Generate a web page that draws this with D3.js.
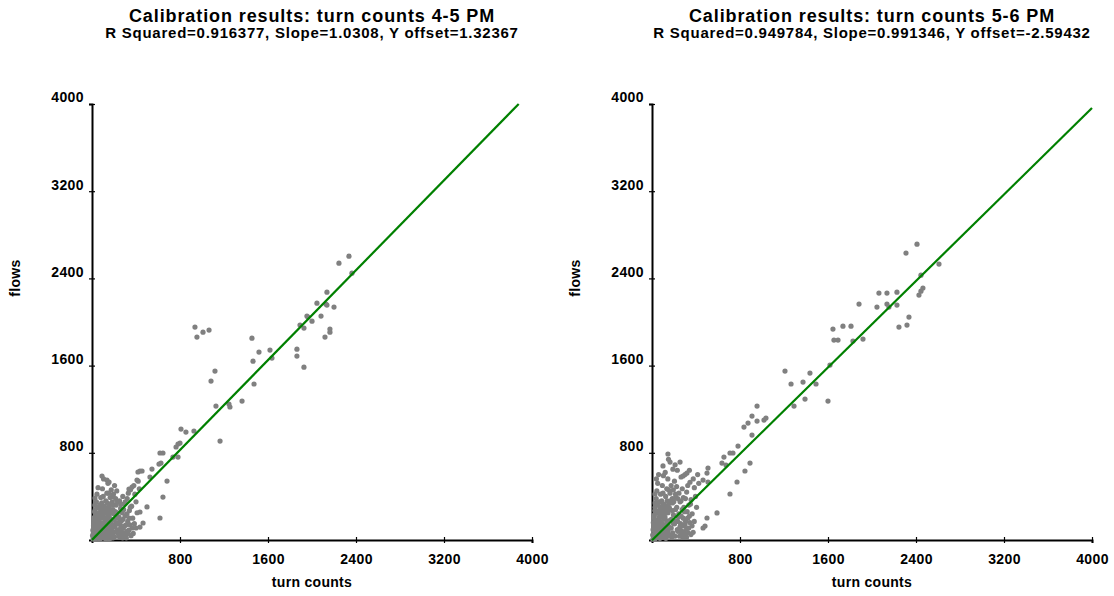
<!DOCTYPE html>
<html>
<head>
<meta charset="utf-8">
<script src="https://cdn.jsdelivr.net/npm/d3@7"></script>
<style>
  body { margin: 0; background: #fff; }
  text { font-family: "Liberation Sans", Arial, sans-serif; font-weight: bold; fill: #000; }
</style>
</head>
<body>
<div id="chart"></div>
<script>
var width = 1114;
var height = 596;

var tickValues = [800, 1600, 2400, 3200, 4000];

var titles = ["Calibration results: turn counts 4-5 PM", "Calibration results: turn counts 5-6 PM"];
var subtitles = ["R Squared=0.916377, Slope=1.0308, Y offset=1.32367",
                 "R Squared=0.949784, Slope=0.991346, Y offset=-2.59432"];
var slopes = [1.0308, 0.991346];
var offsets = [1.32367, -2.59432];

// 4-5 PM: [turn counts, flows]
var points45 = [
  [2245,2540],[2336,2604],[2363,2448],[2136,2274],[2045,2173],[2127,2164],[2200,2137],[2082,2054],
  [1963,2045],[2000,2008],[1891,1972],[1927,1944],[2163,1935],[2136,2155],[2118,1862],[2163,1907],
  [1863,1751],[1863,1687],[1927,1586],[1954,2054],
  [936,1953],[954,1862],[1009,1907],[1064,1926],[1454,1852],[1518,1724],[1618,1742],[1636,1669],
  [1464,1641],[1118,1550],[1082,1458],[1473,1431],[1364,1275],[1127,1229],[1245,1247],[1254,1220],
  [809,1018],[854,990],[927,1000],[800,889],[1164,908],[782,880],[764,853],[618,798],[645,798],
  [736,761],[782,761],[609,697],[627,706],[436,633],[418,624],[455,633],[545,651],[527,578],
  [409,550],[682,541],[645,394],[618,202],[91,587],[136,550],[155,532],[27,385],[364,486],[336,468],
  [500,303],[436,257],[464,156],[436,119],[400,110],[318,64],[255,183],
  [20,30],[35,60],[50,20],[60,90],[75,45],[90,130],[100,70],[110,160],[120,30],[130,110],
  [140,200],[150,60],[160,240],[170,150],[180,90],[190,280],[200,190],[210,120],[220,320],[230,250],
  [240,60],[250,360],[260,290],[270,180],[280,400],[290,330],[300,220],[310,140],[320,380],[330,430],
  [340,270],[350,460],[360,310],[370,200],[380,500],[390,420],[400,350],[410,250],[420,540],[430,470],
  [15,150],[25,210],[30,280],[40,350],[45,420],[55,480],[65,250],[70,320],[80,390],[85,200],
  [95,470],[105,560],[115,270],[125,360],[135,430],[145,520],[155,310],[165,390],[175,460],[185,350],
  [195,420],[205,500],[215,380],[225,450],[235,150],[245,210],[255,100],[265,40],[275,250],[285,110],
  [295,60],[305,30],[315,80],[325,170],[335,90],[345,140],[355,40],[365,110],[375,60],[385,150],
  [10,10],[12,60],[18,100],[22,180],[28,5],[32,120],[38,240],[42,15],[48,170],[52,300],
  [58,40],[62,200],[68,130],[72,10],[78,280],[82,80],[88,340],[92,20],[98,220],[102,400],
  [108,100],[112,310],[118,50],[122,180],[128,250],[132,20],[138,340],[142,90],[148,160],[152,430],
  [158,10],[162,200],[168,280],[172,50],[178,330],[182,120],[188,400],[192,20],[198,240],[202,70],
  [5,40],[8,90],[14,130],[16,200],[24,260],[26,320],[34,20],[36,80],[44,140],[46,230],
  [54,60],[56,110],[64,30],[66,170],[74,220],[76,100],[84,150],[86,260],[94,50],[96,300],
  [104,130],[106,240],[114,80],[116,200],[124,10],[126,290],[134,150],[136,60],[144,230],[146,120],
  [154,40],[156,270],[164,100],[166,330],[174,180],[176,20],[184,250],[186,60],[194,140],[196,320],
  [206,30],[212,260],[218,160],[228,90],[232,350],[238,200],[248,30],[258,140],[262,330],[268,80],
  [278,20],[282,190],[288,280],[298,130],[302,350],[312,20],[318,240],[328,60],[338,200],[348,300]
];

// 5-6 PM: [turn counts, flows]
var points56 = [
  [2409,2714],[2309,2632],[2609,2531],[2445,2430],[2463,2311],[2445,2283],[2427,2247],[2063,2265],
  [2136,2265],[2227,2274],[1882,2164],[2045,2137],[2136,2164],[2227,2155],[2154,2137],[2336,2045],
  [2318,1972],[2245,1953],[1809,1962],[1736,1962],[1645,1935],[1654,1834],[1691,1834],[1827,1825],
  [1918,1843],[1618,1605],[1209,1550],[1436,1531],[1264,1431],[1373,1449],[1491,1431],[1391,1293],
  [1600,1275],[1291,1229],[955,1229],[909,1137],[873,1073],[836,1036],[955,1091],[1018,1100],
  [1036,1119],[909,963],[782,862],[709,798],[736,798],[654,761],[636,706],[673,688],[891,706],
  [845,633],[509,660],[500,614],[464,550],[509,532],[773,532],[709,422],[591,248],[500,202],
  [482,128],[464,110],[145,789],[164,715],[255,715],[318,614],[282,587],[264,578],[27,422],
  [20,20],[30,70],[45,30],[55,110],[70,50],[85,160],[95,90],[105,200],[115,40],[125,140],
  [135,250],[145,80],[155,300],[165,180],[175,110],[185,340],[195,230],[205,150],[215,390],[225,300],
  [235,80],[245,430],[255,350],[265,220],[275,470],[285,390],[295,260],[305,170],[315,440],[325,500],
  [335,320],[345,530],[355,370],[365,240],[375,560],[385,480],[395,400],[405,300],[415,600],[425,520],
  [12,160],[22,230],[28,300],[38,380],[44,450],[52,520],[62,270],[68,350],[78,420],[84,220],
  [94,500],[104,590],[114,300],[124,400],[134,470],[144,560],[154,340],[164,430],[174,500],[184,380],
  [194,460],[204,540],[214,420],[224,490],[234,170],[244,240],[254,120],[264,50],[274,280],[284,130],
  [294,70],[304,40],[314,100],[324,200],[334,110],[344,160],[354,50],[364,130],[374,70],[384,170],
  [8,8],[14,50],[18,110],[24,190],[26,10],[34,130],[36,260],[40,20],[48,180],[54,320],
  [58,50],[64,210],[66,140],[72,15],[76,300],[80,90],[88,360],[90,25],[98,240],[100,430],
  [108,110],[110,330],[118,60],[120,190],[128,270],[130,25],[138,360],[140,100],[148,170],[150,460],
  [6,45],[10,95],[16,140],[18,210],[26,270],[28,340],[36,25],[38,85],[46,150],[48,250],
  [56,65],[58,120],[66,35],[68,180],[76,240],[78,110],[86,160],[88,280],[96,55],[98,320],
  [106,140],[108,260],[116,85],[118,210],[126,15],[128,310],[136,160],[138,65],[146,250],[148,130],
  [156,45],[158,290],[166,110],[168,360],[176,190],[178,25],[186,270],[188,65],[196,150],[198,350],
  [208,35],[214,280],[220,170],[230,95],[234,380],[240,210],[250,35],[260,150],[264,360],[270,85],
  [280,25],[284,200],[290,300],[300,140],[304,380],[314,25],[320,260],[330,65],[340,220],[350,330],
  [190,650],[210,690],[230,640],[120,620],[100,680],[60,600],[40,560],[300,600],[340,640],[150,740]
];

var pointSets = [points45, points56];
var lefts = [92, 652];
var plotWidth = 440;

var svg = d3.select("#chart").append("svg")
  .attr("width", width)
  .attr("height", height);

var y = d3.scaleLinear().domain([0, 4000]).range([540, 104]);
var fmt = d3.format("d");

lefts.forEach(function (left, i) {
  var x = d3.scaleLinear().domain([0, 4000]).range([left, left + plotWidth]);
  var g = svg.append("g");

  g.append("text")
    .attr("x", left + plotWidth / 2).attr("y", 22)
    .attr("text-anchor", "middle").style("font-size", "18px").style("letter-spacing", "0.9px")
    .text(titles[i]);
  g.append("text")
    .attr("x", left + plotWidth / 2).attr("y", 38)
    .attr("text-anchor", "middle").style("font-size", "15px").style("letter-spacing", "0.75px")
    .text(subtitles[i]);

  // axes
  var xAxis = g.append("g")
    .attr("transform", "translate(0,540)")
    .call(d3.axisBottom(x).tickValues(tickValues).tickFormat(fmt).tickSizeOuter(0).tickSize(3));
  xAxis.selectAll(".tick line").attr("y1", -3).attr("stroke-width", 1.2);
  xAxis.selectAll(".tick text").attr("y", 24).attr("dy", null);
  xAxis.select(".domain").attr("stroke-width", 2);

  var yAxis = g.append("g")
    .attr("transform", "translate(" + left + ",0)")
    .call(d3.axisLeft(y).tickValues(tickValues).tickFormat(fmt).tickSizeOuter(0).tickSize(3));
  yAxis.selectAll(".tick line").attr("x1", 3).attr("stroke-width", 1.2);
  yAxis.selectAll(".tick text").attr("x", -8).attr("dy", "-0.15em");
  yAxis.select(".domain").attr("stroke-width", 2);
  g.selectAll(".tick text")
    .attr("font-family", null).attr("font-size", null)
    .style("font-size", "14px").style("letter-spacing", "0.4px");

  g.append("text")
    .attr("x", left + plotWidth / 2).attr("y", 587)
    .attr("text-anchor", "middle").style("font-size", "14px").style("letter-spacing", "0.3px")
    .text("turn counts");
  g.append("text")
    .attr("transform", "translate(" + (left - 72) + ",278) rotate(-90)")
    .attr("text-anchor", "middle").style("font-size", "14px").style("letter-spacing", "0.3px")
    .text("flows");

  // points
  g.append("g").selectAll("circle")
    .data(pointSets[i])
    .join("circle")
    .attr("cx", (d) => x(d[0]))
    .attr("cy", (d) => y(d[1]))
    .attr("r", 2.6)
    .attr("fill", "#808080");

  // regression line
  var xEnd = Math.min(4000, (4000 - offsets[i]) / slopes[i]);
  var line = d3.line().x((d) => x(d)).y((d) => y(slopes[i] * d + offsets[i]));
  g.append("path")
    .datum([0, xEnd])
    .attr("d", line)
    .attr("fill", "none")
    .attr("stroke", "#008000")
    .attr("stroke-width", 2.2);
});
</script>
</body>
</html>
